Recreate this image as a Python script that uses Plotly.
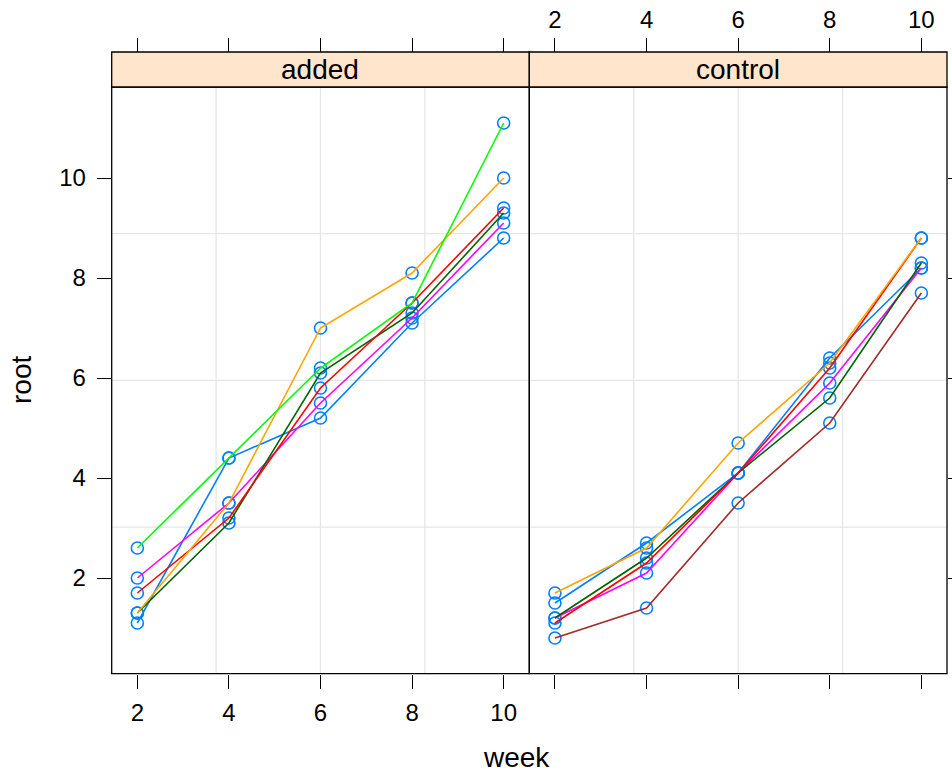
import plotly.graph_objects as go

# ---------------- data ----------------
weeks = [2, 4, 6, 8, 10]
tick_vals = [2, 4, 6, 8, 10]
panel_names = ["added", "control"]

# added panel (plants 1-6)
added_p1 = [1.1, 4.4, 5.2, 7.1, 8.8]
added_p2 = [2.0, 3.5, 5.5, 7.2, 9.1]
added_p3 = [1.3, 3.1, 6.1, 7.3, 9.3]
added_p4 = [1.7, 3.2, 5.8, 7.5, 9.4]
added_p5 = [1.3, 3.5, 7.0, 8.1, 10.0]
added_p6 = [2.6, 4.4, 6.2, 7.5, 11.1]

# control panel (plants 7-12)
control_p7 = [0.8, 1.4, 3.5, 5.1, 7.7]
control_p8 = [1.5, 2.7, 4.1, 6.4, 8.2]
control_p9 = [1.2, 2.1, 4.1, 5.9, 8.2]
control_p10 = [1.2, 2.4, 4.1, 5.6, 8.3]
control_p11 = [1.1, 2.3, 4.1, 6.2, 8.8]
control_p12 = [1.7, 2.6, 4.7, 6.3, 8.8]

added_series = [added_p1, added_p2, added_p3, added_p4, added_p5, added_p6]
control_series = [control_p7, control_p8, control_p9, control_p10, control_p11, control_p12]

# lattice superpose colours (recycled over 12 plants)
superpose = ["#0080ff", "#ff00ff", "darkgreen", "#ff0000", "orange", "#00ff00", "brown"]
added_cols = [superpose[i % 7] for i in range(0, 6)]
control_cols = [superpose[i % 7] for i in range(6, 12)]

# ---------------- geometry ----------------
W, H = 952, 774
px = lambda v: v / W
py = lambda v: (H - v) / H
dom_left = [px(111.7), px(529.3)]
dom_right = [px(529.3), px(947.0)]
dom_y = [py(673.7), py(87.0)]
strip_top = py(52.0)
xr = [1.44, 10.56]
yr = [0.086, 11.82]

FONT = "Liberation Sans"
TICK = 24
TITLE = 28

fig = go.Figure()

def add_panel(series, cols, xa):
    xs, ys = [], []
    for s in series:
        xs += weeks
        ys += s
    fig.add_trace(go.Scatter(x=xs, y=ys, mode="markers", xaxis=xa, yaxis="y",
                             marker=dict(symbol="circle-open", size=12, color="#0080ff",
                                         line=dict(width=1.6, color="#0080ff")),
                             showlegend=False, hoverinfo="x+y"))
    for s, c in zip(series, cols):
        fig.add_trace(go.Scatter(x=weeks, y=s, mode="lines", xaxis=xa, yaxis="y",
                                 line=dict(color=c, width=1.6), showlegend=False))

add_panel(added_series, added_cols, "x")
add_panel(control_series, control_cols, "x2")
# dummy traces for overlay axes
fig.add_trace(go.Scatter(x=[None], y=[None], xaxis="x3", yaxis="y", showlegend=False))
fig.add_trace(go.Scatter(x=[None], y=[None], xaxis="x4", yaxis="y", showlegend=False))
fig.add_trace(go.Scatter(x=[None], y=[None], xaxis="x2", yaxis="y2", showlegend=False))

axis_common = dict(range=xr, tickvals=tick_vals, ticks="outside", ticklen=14, tickwidth=1.3,
                   tickcolor="black", showgrid=False, zeroline=False, showline=False,
                   automargin=False,
                   tickfont=dict(family=FONT, size=TICK, color="black"))

fig.update_layout(
    template="none",
    width=W, height=H, autosize=False,
    margin=dict(l=0, r=0, t=0, b=0, pad=0),
    paper_bgcolor="white", plot_bgcolor="white",
    xaxis=dict(domain=dom_left, anchor="y", side="bottom", showticklabels=True,
               ticklabelstandoff=3, **axis_common),
    xaxis2=dict(domain=dom_right, anchor="y", side="bottom", showticklabels=False, **axis_common),
    xaxis3=dict(overlaying="x", anchor="free", position=strip_top, side="top",
                showticklabels=False, **axis_common),
    xaxis4=dict(overlaying="x2", anchor="free", position=strip_top, side="top",
                showticklabels=True, **axis_common),
    yaxis=dict(domain=dom_y, anchor="x", range=yr, tickvals=tick_vals, ticks="outside",
               ticklen=14, tickwidth=1.3, tickcolor="black", showgrid=False, zeroline=False,
               showline=False, ticklabelstandoff=6, automargin=False,
               tickfont=dict(family=FONT, size=TICK, color="black")),
    yaxis2=dict(overlaying="y", anchor="x2", side="right", range=yr, tickvals=tick_vals,
                ticks="outside", ticklen=14, tickwidth=1.3, tickcolor="black", automargin=False,
                showticklabels=False, showgrid=False, zeroline=False, showline=False),
    showlegend=False,
)

shapes = []
for xd in ["x domain", "x2 domain"]:
    for f in [0.25, 0.5, 0.75]:
        shapes.append(dict(type="line", xref=xd, yref="y domain", x0=f, x1=f, y0=0, y1=1,
                           line=dict(color="#e6e6e6", width=1.3), layer="below"))
        shapes.append(dict(type="line", xref=xd, yref="y domain", x0=0, x1=1, y0=f, y1=f,
                           line=dict(color="#e6e6e6", width=1.3), layer="below"))
    shapes.append(dict(type="rect", xref=xd, yref="y domain", x0=0, x1=1, y0=0, y1=1,
                       line=dict(color="black", width=1.3), layer="above"))
    shapes.append(dict(type="rect", xref=xd, yref="paper", x0=0, x1=1, y0=dom_y[1], y1=strip_top,
                       fillcolor="#ffe5cc", line=dict(color="black", width=1.3), layer="above"))
fig.update_layout(shapes=shapes)

ann = []
for xd, name in zip(["x domain", "x2 domain"], panel_names):
    ann.append(dict(xref=xd, yref="paper", x=0.5, y=(dom_y[1] + strip_top) / 2, text=name,
                    showarrow=False, xanchor="center", yanchor="middle",
                    font=dict(family=FONT, size=TITLE, color="black")))
ann.append(dict(xref="paper", yref="paper", x=px(516), y=py(757), text="week", showarrow=False,
                xanchor="center", yanchor="middle", font=dict(family=FONT, size=TITLE, color="black")))
ann.append(dict(xref="paper", yref="paper", x=px(22), y=py(380), text="root", showarrow=False,
                textangle=-90, xanchor="center", yanchor="middle",
                font=dict(family=FONT, size=TITLE, color="black")))
fig.update_layout(annotations=ann)

fig.write_html("out.html", config={"displayModeBar": False},
               post_script="document.body.style.margin='0';document.body.style.overflow='hidden';")
